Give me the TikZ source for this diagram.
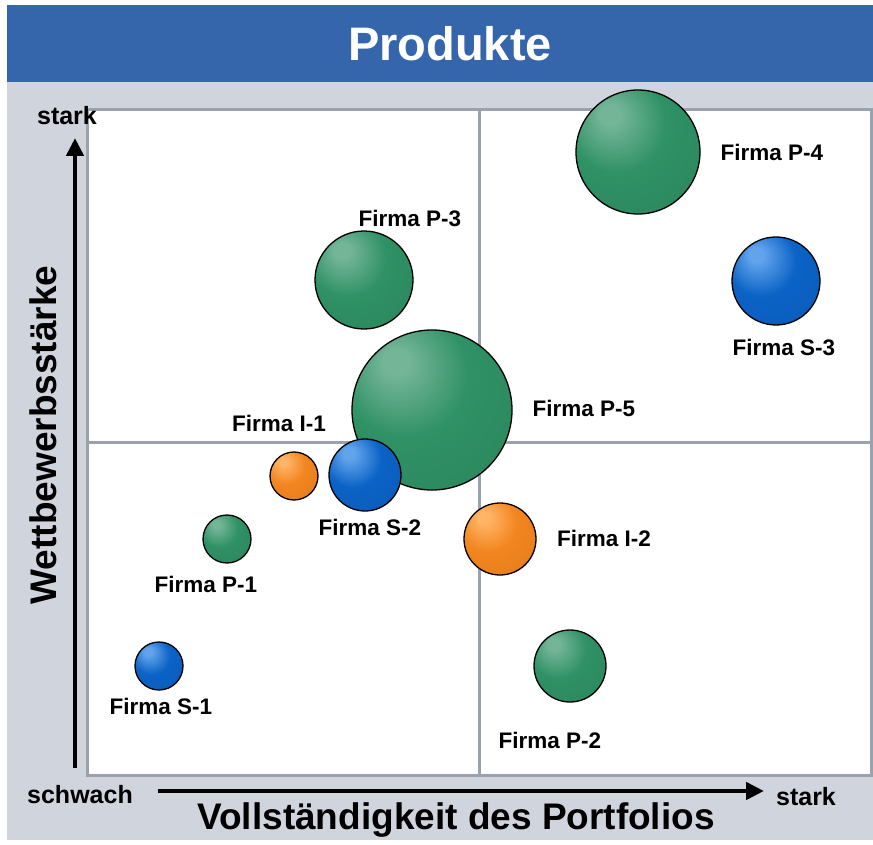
\documentclass[tikz,border=0pt]{standalone}
\usepackage{fontspec}
\setmainfont{Liberation Sans}
\usetikzlibrary{arrows.meta}
\definecolor{bandblue}{HTML}{3566AB}
\definecolor{bggray}{HTML}{D0D4DC}
\definecolor{gridgray}{HTML}{99A2AD}
\definecolor{ghi}{HTML}{74B598}
\definecolor{gmid}{HTML}{2F9165}
\definecolor{glo}{HTML}{1C5C3C}
\definecolor{bhi}{HTML}{62A4EC}
\definecolor{bmid}{HTML}{0B63C6}
\definecolor{blo}{HTML}{053A80}
\definecolor{ohi}{HTML}{FFB466}
\definecolor{omid}{HTML}{F2861F}
\definecolor{olo}{HTML}{AE570C}
\pgfdeclareradialshading{ballgreen}{\pgfpoint{-12bp}{16bp}}{color(0bp)=(ghi); color(4bp)=(ghi); color(20bp)=(gmid); color(42bp)=(gmid!80!glo); color(68bp)=(glo)}
\pgfdeclareradialshading{ballblue}{\pgfpoint{-12bp}{16bp}}{color(0bp)=(bhi); color(4bp)=(bhi); color(20bp)=(bmid); color(42bp)=(bmid!80!blo); color(68bp)=(blo)}
\pgfdeclareradialshading{ballorange}{\pgfpoint{-12bp}{16bp}}{color(0bp)=(ohi); color(4bp)=(ohi); color(20bp)=(omid); color(42bp)=(omid!80!olo); color(68bp)=(olo)}
\tikzset{
  bubble/.style={circle, draw=black, line width=1.3pt, inner sep=0pt, minimum size=#1},
  gball/.style={bubble=#1, shading=ballgreen},
  bball/.style={bubble=#1, shading=ballblue},
  oball/.style={bubble=#1, shading=ballorange},
  lbl/.style={font=\fontsize{22.5}{26}\selectfont\bfseries, inner sep=0pt},
  axlbl/.style={font=\fontsize{25}{29}\selectfont\bfseries, inner sep=0pt},
  bigaxis/.style={font=\fontsize{37}{42}\selectfont\bfseries, inner sep=0pt},
  gridline/.style={draw=gridgray, line width=3pt},
  axisarrow/.style={line width=4.5pt, -{Triangle[length=18pt,width=17pt]}}
}
\begin{document}
\begin{tikzpicture}[x=1pt,y=-1pt]
\useasboundingbox (0,0) rectangle (873,845);
% backgrounds
\fill[bggray] (7,82) rectangle (873,840);
\fill[bandblue] (7,5) rectangle (873,82);
\node[font=\fontsize{47}{52}\selectfont\bfseries, text=white, inner sep=0pt] (title) at (450,44) {Produkte};
% matrix box
\filldraw[fill=white, gridline] (87,110) rectangle (871,775);
\draw[gridline] (479,110) -- (479,775);
\draw[gridline] (87,442) -- (871,442);
% axes
\coordinate (ystart) at (75,768);
\coordinate (yend) at (75,138);
\draw[axisarrow] (ystart) -- (yend);
\coordinate (xstart) at (158,791);
\coordinate (xend) at (764,791);
\draw[axisarrow] (xstart) -- (xend);
\node[axlbl] (ystark) at (67,116) {stark};
\node[axlbl] (xschwach) at (80,795) {schwach};
\node[axlbl] (xstark) at (806,797) {stark};
\node[bigaxis] (xtitle) at (456,820) {Vollständigkeit des Portfolios};
\node[bigaxis, rotate=90] (ytitle) at (43,435) {Wettbewerbsstärke};
% bubbles
\node[gball=124pt] (p4) at (638,152) {};
\node[bball=88pt] (s3) at (776,281) {};
\node[gball=98pt] (p3) at (364,280) {};
\node[gball=160pt] (p5) at (432,410) {};
\node[oball=48pt] (i1) at (294,476) {};
\node[bball=72pt] (s2) at (365,475) {};
\node[gball=48pt] (p1) at (227,539) {};
\node[oball=72pt] (i2) at (500,539) {};
\node[gball=72pt] (p2) at (570,666) {};
\node[bball=48pt] (s1) at (159,666) {};
% labels
\node[lbl] (lp4) at (772,152) {Firma P-4};
\node[lbl] (ls3) at (784,347) {Firma S-3};
\node[lbl] (lp3) at (410,218) {Firma P-3};
\node[lbl] (lp5) at (584,408) {Firma P-5};
\node[lbl] (li1) at (279,423) {Firma I-1};
\node[lbl] (ls2) at (370,527) {Firma S-2};
\node[lbl] (lp1) at (206,584) {Firma P-1};
\node[lbl] (li2) at (604,538) {Firma I-2};
\node[lbl] (lp2) at (550,740) {Firma P-2};
\node[lbl] (ls1) at (161,706) {Firma S-1};
\end{tikzpicture}
\end{document}
